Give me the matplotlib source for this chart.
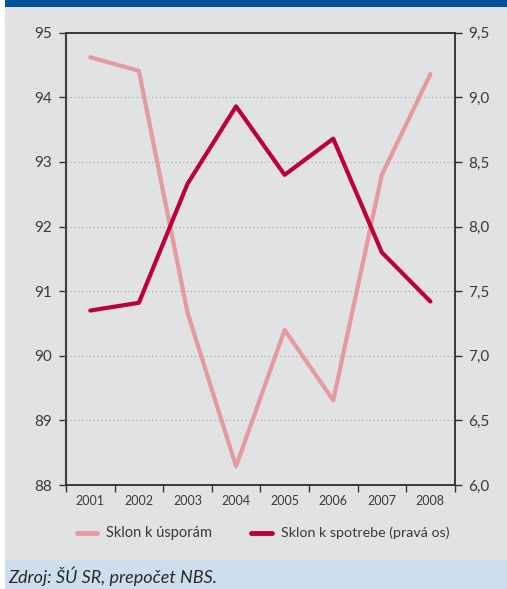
import matplotlib.pyplot as plt
from matplotlib.patches import Rectangle
from matplotlib.ticker import FixedLocator, NullFormatter, FuncFormatter

plt.rcParams["font.family"] = ["Lato", "DejaVu Sans"]

years = ["2001", "2002", "2003", "2004", "2005", "2006", "2007", "2008"]
sklon_usporam = [94.62, 94.41, 90.67, 88.29, 90.40, 89.31, 92.80, 94.36]
sklon_spotrebe = [7.35, 7.41, 8.33, 8.93, 8.40, 8.68, 7.80, 7.42]
left_ticks = [88, 89, 90, 91, 92, 93, 94, 95]
right_ticks = [6.0, 6.5, 7.0, 7.5, 8.0, 8.5, 9.0, 9.5]

PINK = "#e59a9f"
CRIMSON = "#be0039"
PANEL = "#e1e2e4"
BAND = "#cfdeee"
HEADER = "#00529b"
AXIS_TXT = "#3a3a3c"

W, H = 507, 589
fig = plt.figure(figsize=(W / 100, H / 100), dpi=100, facecolor="white")

# panel background, header strip and source band
fig.patches.append(Rectangle((5 / W, 0), 1 - 5 / W, 1, transform=fig.transFigure,
                             facecolor=PANEL, edgecolor="none", zorder=-3))
fig.patches.append(Rectangle((5 / W, 1 - 7 / H), 1 - 5 / W, 7 / H, transform=fig.transFigure,
                             facecolor=HEADER, edgecolor="none", zorder=-2))
fig.patches.append(Rectangle((5 / W, 0), 1 - 5 / W, 29 / H, transform=fig.transFigure,
                             facecolor=BAND, edgecolor="none", zorder=-2))

ax = fig.add_axes([66 / W, 1 - 485 / H, (454.7 - 66) / W, (485 - 32.7) / H])
ax.set_facecolor("none")
x = list(range(len(years)))

ax.plot(x, sklon_usporam, color=PINK, lw=3.0, solid_capstyle="round", zorder=3)
ax.set_ylim(88, 95)
ax.set_xlim(-0.5, len(years) - 0.5)

ax2 = ax.twinx()
ax2.plot(x, sklon_spotrebe, color=CRIMSON, lw=3.0, solid_capstyle="round", zorder=4)
ax2.set_ylim(6.0, 9.5)

# category labels centred, tick marks on boundaries
ax.xaxis.set_major_locator(FixedLocator([i - 0.5 for i in range(len(years) + 1)]))
ax.xaxis.set_major_formatter(NullFormatter())
ax.xaxis.set_minor_locator(FixedLocator(x))
ax.set_xticklabels(years, minor=True)
ax.tick_params(axis="x", which="major", direction="out", length=5, width=1, color="#333333")
ax.tick_params(axis="x", which="minor", length=0, pad=7, labelsize=9, labelcolor=AXIS_TXT)

ax.set_yticks(left_ticks)
ax.tick_params(axis="y", direction="out", length=5, width=1, color="#333333",
               labelsize=11, labelcolor=AXIS_TXT, pad=5)
ax2.set_yticks(right_ticks)
ax2.yaxis.set_major_formatter(FuncFormatter(lambda v, p: f"{v:.1f}".replace(".", ",")))
ax2.tick_params(axis="y", direction="out", length=5, width=1, color="#333333",
                labelsize=11, labelcolor=AXIS_TXT, pad=5)

for t in left_ticks[1:-1]:
    ax.axhline(t, color="#a3a3a5", lw=0.8, ls=(0, (1, 2.5)), zorder=1)

for a in (ax, ax2):
    for s in a.spines.values():
        s.set_color("#333333")
        s.set_linewidth(1.1)
ax.spines["left"].set_color("#6d6e70")
ax.spines["left"].set_linewidth(1.6)

# legend
ly = 1 - 533 / H
fig.lines.append(plt.Line2D([77 / W, 97 / W], [ly, ly], transform=fig.transFigure,
                            color=PINK, lw=3.5, solid_capstyle="round"))
fig.text(106 / W, ly, "Sklon k úsporám", fontsize=10.5, color=AXIS_TXT, va="center")
fig.lines.append(plt.Line2D([251 / W, 272 / W], [ly, ly], transform=fig.transFigure,
                            color=CRIMSON, lw=3.5, solid_capstyle="round"))
fig.text(281 / W, ly, "Sklon k spotrebe (pravá os)", fontsize=10.3, color=AXIS_TXT, va="center")

fig.text(8 / W, 1 - 576 / H, "Zdroj: ŠÚ SR, prepočet NBS.", fontsize=13, style="italic",
         color="#2a2a2c", va="center")

fig.savefig("out.png", dpi=100, facecolor="white")
